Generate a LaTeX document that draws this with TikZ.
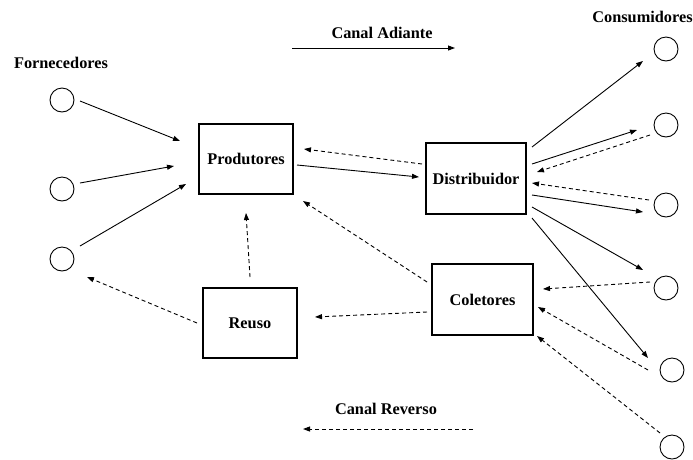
\documentclass[tikz,border=0pt]{standalone}
\usepackage{fontspec}
\setmainfont{Liberation Serif}
\usetikzlibrary{arrows.meta}
\begin{document}
\begin{tikzpicture}[x=1pt,y=-1pt,
  lbl/.style={font=\fontsize{16.3}{19}\selectfont\bfseries, inner sep=0pt},
  agent/.style={draw, line width=1.1pt, inner sep=0pt, font=\fontsize{16.3}{19}\selectfont\bfseries},
  party/.style={draw, circle, line width=0.9pt, minimum size=24pt, inner sep=0pt},
  flow/.style={line width=0.9pt, -{Triangle[length=7pt,width=5pt]}},
  back/.style={flow, dash pattern=on 4pt off 3pt}]
\useasboundingbox (0,0) rectangle (693,459);

% agents of the chain
\node[agent, minimum width=94pt, minimum height=70pt] (prod) at (246,159) {Produtores};
\node[agent, minimum width=100pt, minimum height=71pt] (dist) at (476,178.5) {Distribuidor};
\node[agent, minimum width=101pt, minimum height=71pt] (colet) at (482.5,299.5) {Coletores};
\node[agent, minimum width=94pt, minimum height=70pt] (reuso) at (250,323) {Reuso};

% suppliers
\node[lbl] (tforn) at (61,63) {Fornecedores};
\node[party] (f1) at (62,100) {};
\node[party] (f2) at (62,189) {};
\node[party] (f3) at (62,259) {};

% consumers
\node[lbl] (tcons) at (642.5,17) {Consumidores};
\node[party] (c1) at (666,49) {};
\node[party] (c2) at (666,125) {};
\node[party] (c3) at (666,205) {};
\node[party] (c4) at (666,288) {};
\node[party] (c5) at (672,370) {};
\node[party] (c6) at (672,447) {};

% legend
\node[lbl] (tadi) at (382,33) {Canal Adiante};
\coordinate (adA) at (292,48);
\coordinate (adB) at (455,48);
\draw[flow] (adA) -- (adB);
\node[lbl] (trev) at (386,409) {Canal Reverso};
\coordinate (rvA) at (473,429);
\coordinate (rvB) at (303,429);
\draw[back] (rvA) -- (rvB);

% forward channel
\draw[flow] ([shift={(18,1)}]f1.center) -- ([shift={(-66,-18)}]prod.center);
\draw[flow] ([shift={(18,-6)}]f2.center) -- ([shift={(-72,7)}]prod.center);
\draw[flow] ([shift={(18,-13)}]f3.center) -- ([shift={(-60,25)}]prod.center);
\draw[flow] ([shift={(51,6)}]prod.center) -- ([shift={(-57,-1.5)}]dist.center);
\draw[flow] ([shift={(56,-31.5)}]dist.center) -- ([shift={(-23,12)}]c1.center);
\draw[flow] ([shift={(56,-14.5)}]dist.center) -- ([shift={(-29,5)}]c2.center);
\draw[flow] ([shift={(56,16.5)}]dist.center) -- ([shift={(-23,7)}]c3.center);
\draw[flow] ([shift={(56,28.5)}]dist.center) -- ([shift={(-23,-18)}]c4.center);
\draw[flow] ([shift={(56,39.5)}]dist.center) -- ([shift={(-24,-12)}]c5.center);

% reverse channel
\draw[back] ([shift={(-54,-14.5)}]dist.center) -- ([shift={(58,-10)}]prod.center);
\draw[back] ([shift={(-16,10)}]c2.center) -- ([shift={(61,-6.5)}]dist.center);
\draw[back] ([shift={(-17,-5)}]c3.center) -- ([shift={(56,4.5)}]dist.center);
\draw[back] ([shift={(-16,-6)}]c4.center) -- ([shift={(60.5,-10.5)}]colet.center);
\draw[back] ([shift={(-24,0)}]c5.center) -- ([shift={(55.5,7.5)}]colet.center);
\draw[back] ([shift={(-12,-14)}]c6.center) -- ([shift={(54.5,36.5)}]colet.center);
\draw[back] ([shift={(-55.5,-17.5)}]colet.center) -- ([shift={(57,42)}]prod.center);
\draw[back] ([shift={(-55.5,12.5)}]colet.center) -- ([shift={(65,-6)}]reuso.center);
\draw[back] ([shift={(0,-46)}]reuso.center) -- ([shift={(0,54)}]prod.center);
\draw[back] ([shift={(-53,0)}]reuso.center) -- ([shift={(25,18)}]f3.center);
\end{tikzpicture}
\end{document}
